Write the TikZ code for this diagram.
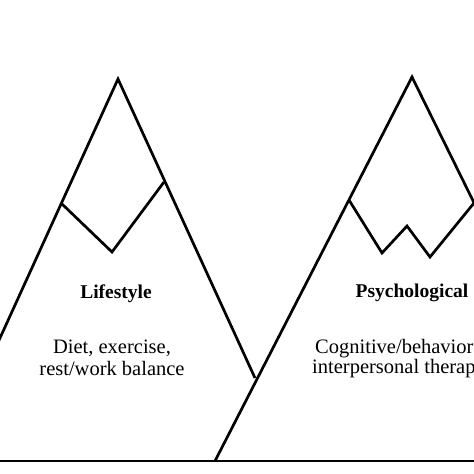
\documentclass[tikz,border=0pt]{standalone}
\usepackage{fontspec}
\setmainfont{Liberation Serif}
\begin{document}
\begin{tikzpicture}[x=1pt,y=-1pt,
  ridge/.style={draw=black,line width=2.7pt,line join=miter},
  groundline/.style={draw=black,line width=2.8pt},
  title/.style={anchor=base,inner sep=0pt,font=\fontsize{19.5}{21}\selectfont\bfseries},
  body/.style={anchor=base,inner sep=0pt,font=\fontsize{20.5}{22}\selectfont}]
\useasboundingbox (0,0) rectangle (474,474);
\clip (0,0) rectangle (474,474);
\fill[white] (0,0) rectangle (474,474);
% left mountain
\coordinate (lfoot) at (-5,349);
\coordinate (lpeak) at (118,79);
\coordinate (cross) at (255,378);
\coordinate (lc1) at (62,204);
\coordinate (lc2) at (112,252);
\coordinate (lc3) at (164,182);
\draw[ridge] (lfoot) -- (lpeak) -- (cross);
\draw[ridge] (lc1) -- (lc2) -- (lc3);
% right mountain
\coordinate (rfoot) at (215,461);
\coordinate (rpeak) at (412,77);
\coordinate (rend) at (482,219);
\coordinate (rc1) at (349,200);
\coordinate (rc2) at (382,253);
\coordinate (rc3) at (407,226);
\coordinate (rc4) at (430,257);
\coordinate (rc5) at (474,203);
\draw[ridge] (rfoot) -- (rpeak) -- (rend);
\draw[ridge] (rc1) -- (rc2) -- (rc3) -- (rc4) -- (rc5);
% ground
\coordinate (g0) at (-5,461);
\coordinate (g1) at (480,461);
\draw[groundline] (g0) -- (g1);
% texts
\node[title] (t1) at (116,298) {Lifestyle};
\node[body] (t1a) at (112,353) {Diet, exercise,};
\node[body] (t1b) at (112,375) {rest/work balance};
\node[title] (t2) at (412,297) {Psychological};
\node[body,anchor=base west] (t2a) at (315,353) {Cognitive/behavioral,};
\node[body,anchor=base west] (t2b) at (312,373) {interpersonal therapy};
\end{tikzpicture}
\end{document}
